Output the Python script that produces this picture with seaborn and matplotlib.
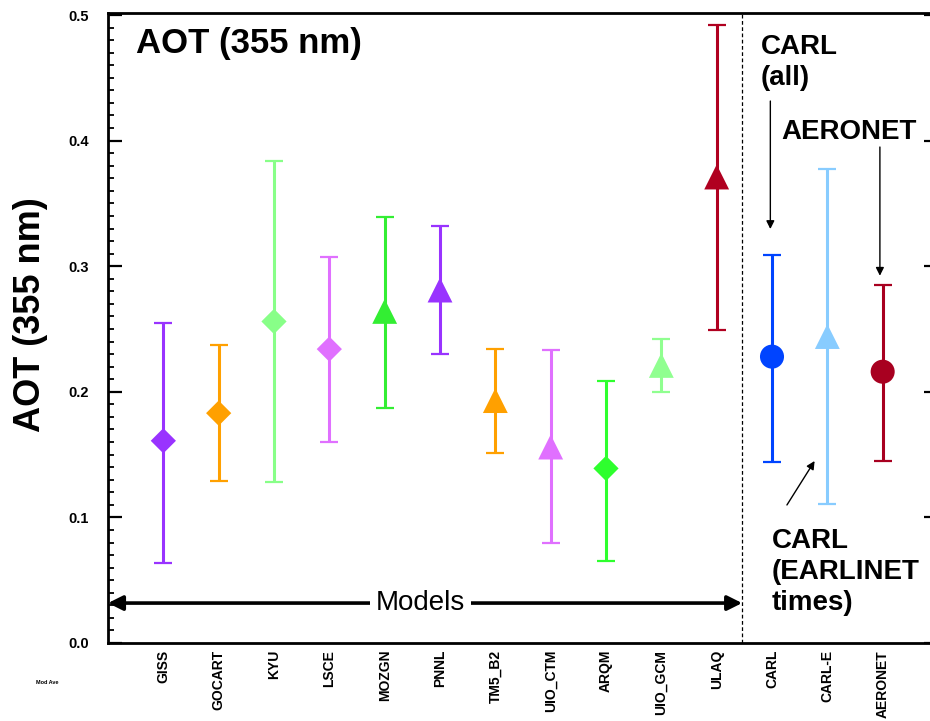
import matplotlib
matplotlib.use("Agg")
import matplotlib.pyplot as plt
from matplotlib.ticker import MultipleLocator, FormatStrFormatter
import numpy as np
import pandas as pd
import seaborn as sns

# ---------------- data ----------------
models = ["GISS", "GOCART", "KYU", "LSCE", "MOZGN", "PNNL", "TM5_B2",
          "UIO_CTM", "ARQM", "UIO_GCM", "ULAQ", "CARL", "CARL-E", "AERONET"]
aot_mean = [0.161, 0.183, 0.256, 0.234, 0.264, 0.281, 0.193,
            0.156, 0.139, 0.221, 0.371, 0.228, 0.244, 0.216]
aot_upper = [0.255, 0.237, 0.384, 0.307, 0.339, 0.332, 0.234,
             0.233, 0.209, 0.242, 0.492, 0.309, 0.377, 0.285]
aot_lower = [0.064, 0.129, 0.128, 0.160, 0.187, 0.230, 0.151,
             0.080, 0.065, 0.200, 0.249, 0.144, 0.111, 0.145]
marker_kind = ["D", "D", "D", "D", "^", "^", "^",
               "^", "D", "^", "^", "o", "^", "o"]
colors = ["#9933FF", "#FFA000", "#88FF88", "#E070FF", "#33EE33", "#9933FF", "#FFA000",
          "#E070FF", "#2EFF2E", "#90FF90", "#B00020", "#0044FF", "#88CCFF", "#A80020"]
ytick_values = [0.0, 0.1, 0.2, 0.3, 0.4, 0.5]

df = pd.DataFrame({
    "model": models,
    "pos": np.arange(1, len(models) + 1),
    "aot": aot_mean,
    "upper": aot_upper,
    "lower": aot_lower,
    "marker": marker_kind,
})
palette = dict(zip(models, colors))

# ---------------- style ----------------
sns.set_style("white")
plt.rcParams["font.family"] = ["Liberation Sans", "DejaVu Sans"]
plt.rcParams["text.color"] = "black"
plt.rcParams["axes.labelcolor"] = "black"
plt.rcParams["xtick.color"] = "black"
plt.rcParams["ytick.color"] = "black"

fig = plt.figure(figsize=(9.30, 7.21), dpi=100)
ax = fig.add_axes([108 / 930, 1 - 643 / 721, (938 - 108) / 930, (643 - 13) / 721])

# error bars
for _, r in df.iterrows():
    ax.errorbar(r["pos"], r["aot"],
                yerr=[[r["aot"] - r["lower"]], [r["upper"] - r["aot"]]],
                fmt="none", ecolor=palette[r["model"]], elinewidth=2.2,
                capsize=6.5, capthick=1.6, zorder=2)

# markers through seaborn
sizes = {"D": 165, "^": 320, "o": 300}
for mk, sub in df.groupby("marker"):
    sns.scatterplot(data=sub, x="pos", y="aot", hue="model", palette=palette,
                    marker=mk, s=sizes[mk], linewidth=0, legend=False,
                    ax=ax, zorder=3)

ax.set_xlim(0, 15)
ax.set_ylim(0, 0.5016)
ax.set_xlabel("")
ax.set_ylabel("")

ax.set_xticks(df["pos"])
ax.set_xticklabels(models, rotation=90, fontsize=10, fontweight="bold", va="top",
                   color="black")
ax.set_yticks(ytick_values)
ax.yaxis.set_major_formatter(FormatStrFormatter("%.1f"))
ax.yaxis.set_minor_locator(MultipleLocator(0.01))
for lab in ax.get_yticklabels():
    lab.set_fontweight("bold")
    lab.set_fontsize(10.5)
    lab.set_color("black")

ax.tick_params(axis="x", which="both", length=0, pad=5)
ax.tick_params(axis="y", which="major", direction="in", length=10, width=1.6,
               left=True, right=True, pad=14, colors="black")
ax.tick_params(axis="y", which="minor", direction="in", length=4.5, width=1.3,
               left=True, right=True, colors="black")
for sp in ax.spines.values():
    sp.set_visible(True)
    sp.set_color("black")
    sp.set_linewidth(2.0)

# dashed separator
ax.axvline(11.46, color="black", lw=0.9, ls=(0, (3, 2)), zorder=1)

# Models arrow
ax.annotate("", xy=(0.0, 0.0318), xytext=(11.46, 0.0318),
            arrowprops=dict(arrowstyle="<|-|>", color="black", lw=2.6,
                            mutation_scale=22, shrinkA=0, shrinkB=0))
ax.text(5.65, 0.0318, "Models", fontsize=20, ha="center", va="center",
        color="black",
        bbox=dict(facecolor="white", edgecolor="none", pad=4), zorder=4)

# title inside plot
ax.text(0.51, 0.4697, "AOT (355 nm)", fontsize=25, fontweight="bold",
        ha="left", va="baseline", color="black")

# annotations on right (baseline = last line)
ax.text(11.80, 0.4443, "CARL\n(all)", fontsize=20, fontweight="bold",
        ha="left", va="baseline", linespacing=1.25, color="black")
ax.annotate("", xy=(11.97, 0.3296), xytext=(11.97, 0.4315),
            arrowprops=dict(arrowstyle="-|>", color="black", lw=1.0,
                            mutation_scale=12, shrinkA=0, shrinkB=0))
ax.text(12.16, 0.4013, "AERONET", fontsize=20, fontweight="bold",
        ha="left", va="baseline", color="black")
ax.annotate("", xy=(13.95, 0.2924), xytext=(13.95, 0.3949),
            arrowprops=dict(arrowstyle="-|>", color="black", lw=1.0,
                            mutation_scale=12, shrinkA=0, shrinkB=0))
ax.annotate("", xy=(12.77, 0.1449), xytext=(12.27, 0.1099),
            arrowprops=dict(arrowstyle="-|>", color="black", lw=1.0,
                            mutation_scale=12, shrinkA=0, shrinkB=0))
ax.text(12.0, 0.0263, "CARL\n(EARLINET\ntimes)", fontsize=20, fontweight="bold",
        ha="left", va="baseline", linespacing=1.25, color="black")

# y axis label
fig.text(30 / 930, 1 - 315 / 721, "AOT (355 nm)", rotation=90, fontsize=26,
         fontweight="bold", ha="center", va="center", color="black")

# tiny label at lower left
fig.text(47 / 930, 1 - 682 / 721, "Mod Ave", fontsize=4, fontweight="bold",
         ha="center", va="center", color="black")

fig.savefig("out.png", dpi=100)
